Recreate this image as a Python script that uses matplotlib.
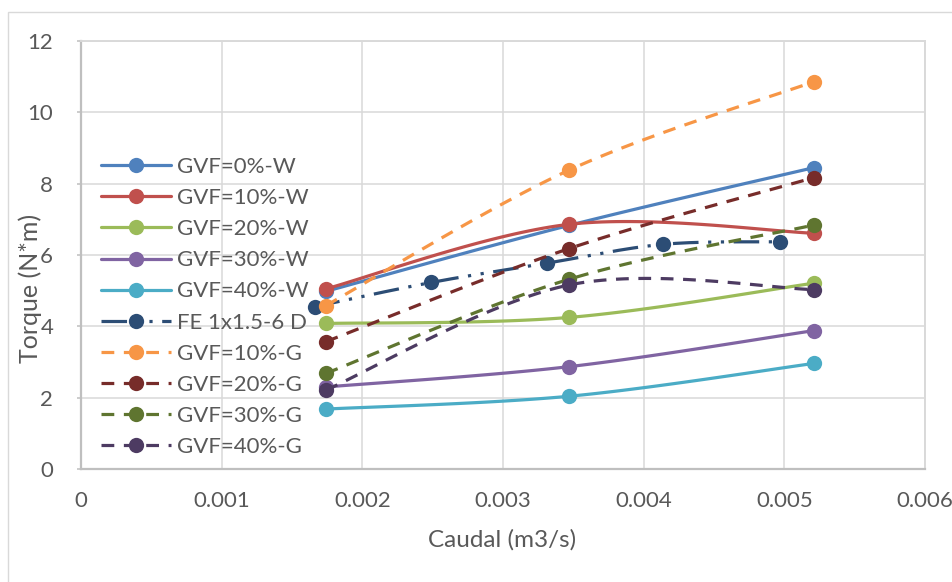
import matplotlib
matplotlib.use("Agg")
import matplotlib.pyplot as plt
from matplotlib.lines import Line2D
from matplotlib.patches import Rectangle
import numpy as np

# ---- data -------------------------------------------------------------
caudal = [0.00174, 0.00347, 0.00521]            # m3/s, test points
caudal_fe = [0.00166, 0.00249, 0.00331, 0.00414, 0.00497]

gvf0_w = [4.98, 6.83, 8.45]
gvf10_w = [5.05, 6.86, 6.61]
gvf20_w = [4.08, 4.25, 5.21]
gvf30_w = [2.30, 2.87, 3.88]
gvf40_w = [1.68, 2.04, 2.96]
fe_1x15_6d = [4.55, 5.23, 5.77, 6.30, 6.37]
gvf10_g = [4.58, 8.38, 10.86]
gvf20_g = [3.57, 6.18, 8.17]
gvf30_g = [2.68, 5.32, 6.84]
gvf40_g = [2.21, 5.16, 5.03]

labels = ["GVF=0%-W", "GVF=10%-W", "GVF=20%-W", "GVF=30%-W", "GVF=40%-W",
          "FE 1x1.5-6 D", "GVF=10%-G", "GVF=20%-G", "GVF=30%-G", "GVF=40%-G"]
colors = ["#4F81BD", "#C0504D", "#9BBB59", "#8064A2", "#4BACC6",
          "#2C4D75", "#F79646", "#772C2A", "#5F7530", "#4D3B62"]

x_ticks = [0, 0.001, 0.002, 0.003, 0.004, 0.005, 0.006]
x_tick_labels = ["0", "0.001", "0.002", "0.003", "0.004", "0.005", "0.006"]
y_ticks = [0, 2, 4, 6, 8, 10, 12]


def smooth(xs, ys, n=40):
    """Catmull-Rom style cubic Bezier through every point."""
    p = np.column_stack([xs, ys]).astype(float)
    out = [p[0]]
    t = np.linspace(0, 1, n)[1:, None]
    for i in range(len(p) - 1):
        p0 = p[i - 1] if i > 0 else p[i]
        p1, p2 = p[i], p[i + 1]
        p3 = p[i + 2] if i + 2 < len(p) else p[i + 1]
        c1 = p1 + (p2 - p0) / 6.0
        c2 = p2 - (p3 - p1) / 6.0
        seg = ((1 - t) ** 3) * p1 + 3 * ((1 - t) ** 2) * t * c1 \
            + 3 * (1 - t) * t ** 2 * c2 + t ** 3 * p2
        out.extend(seg)
    out = np.array(out)
    return out[:, 0], out[:, 1]


plt.rcParams["font.family"] = ["Lato", "DejaVu Sans"]
TXT = "#595959"

W, H = 953, 582
fig = plt.figure(figsize=(W / 100, H / 100), dpi=100)
ax = fig.add_axes([81 / W, 1 - 469 / H, (925 - 81) / W, (469 - 41) / H])

# chart-area frame
fig.patches.append(Rectangle((8.5 / W, -0.1), 1.2, 1 - 11.5 / H + 0.1,
                             transform=fig.transFigure, fill=False,
                             edgecolor="#D9D9D9", lw=1.0))

series = [
    (caudal, gvf0_w, "solid"),
    (caudal, gvf10_w, "solid"),
    (caudal, gvf20_w, "solid"),
    (caudal, gvf30_w, "solid"),
    (caudal, gvf40_w, "solid"),
    (caudal_fe, fe_1x15_6d, "lgdashdotdot"),
    (caudal, gvf10_g, "dash"),
    (caudal, gvf20_g, "dash"),
    (caudal, gvf30_g, "dash"),
    (caudal, gvf40_g, "dash"),
]

LW = 2.3
MS = 11
handles = []
for k, ((xs, ys, style), col, lab) in enumerate(zip(series, colors, labels)):
    kw = dict(color=col, lw=LW)
    if style == "dash":
        kw["dashes"] = (4, 3)
    elif style == "lgdashdotdot":
        kw["dashes"] = (8, 3, 1, 3, 1, 3)
    else:
        kw["solid_capstyle"] = "round"
    sx, sy = smooth(xs, ys)
    z = 3 + k * 0.1
    ax.plot(sx, sy, zorder=z, **kw)
    ax.plot(xs, ys, ls="none", marker="o", ms=MS, mew=0, color=col,
            zorder=z + 0.05)
    handles.append(Line2D([], [], marker="o", ms=MS, mew=0, label=lab, **kw))

ax.set_xlim(0, 0.006)
ax.set_ylim(0, 12)
ax.set_xticks(x_ticks)
ax.set_xticklabels(x_tick_labels)
ax.set_yticks(y_ticks)
ax.grid(True, color="#D9D9D9", lw=1.1, zorder=0)
ax.set_axisbelow(True)

for side in ["left", "bottom"]:
    ax.spines[side].set_color("#BFBFBF")
    ax.spines[side].set_linewidth(1.6)
for side in ["top", "right"]:
    ax.spines[side].set_color("#D9D9D9")
    ax.spines[side].set_linewidth(1.4)

ax.tick_params(axis="y", direction="out", length=3, width=1.1,
               color="#BFBFBF", pad=17, labelsize=16, labelcolor=TXT)
ax.tick_params(axis="x", length=0, pad=16, labelsize=16, labelcolor=TXT)

fig.text(502 / W, 1 - 540 / H, "Caudal (m3/s)", fontsize=17.5,
         color=TXT, ha="center", va="center")
fig.text(30 / W, 1 - 288 / H, "Torque (N*m)", fontsize=18, color=TXT,
         ha="center", va="center", rotation=90)

leg = ax.legend(handles=handles, loc="upper left",
                bbox_to_anchor=(100.7 / W, 1 - 157 / H),
                bbox_transform=fig.transFigure, frameon=False,
                fontsize=16, handlelength=3.15, handletextpad=0.28,
                labelspacing=0.50, borderpad=0, borderaxespad=0,
                numpoints=1)
for t in leg.get_texts():
    t.set_color(TXT)

fig.savefig("out.png", dpi=100)
